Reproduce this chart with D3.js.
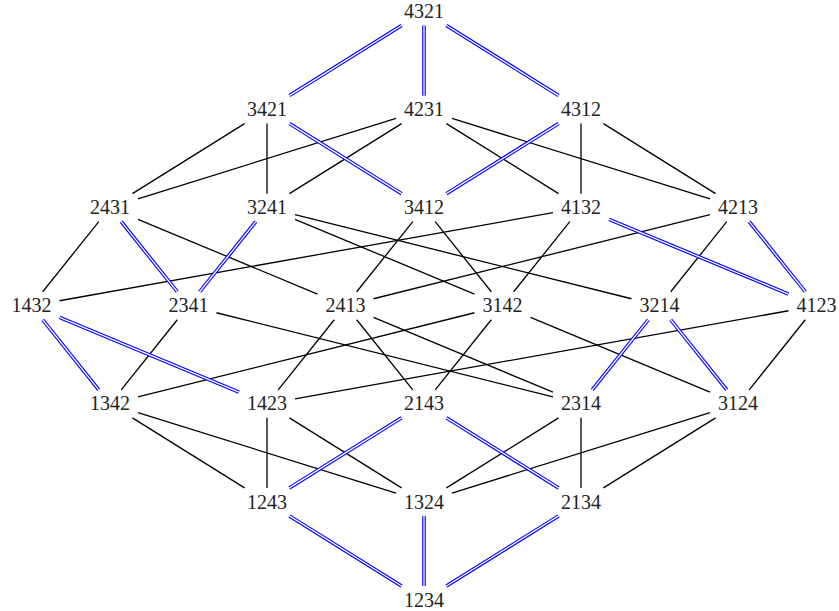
<!DOCTYPE html>
<html>
<head>
<meta charset="utf-8">
<script src="https://cdn.jsdelivr.net/npm/d3@7"></script>
<style>
  body { margin: 0; background: #fff; }
  text { font-family: "Liberation Serif", "DejaVu Serif", serif; }
</style>
</head>
<body>
<div id="chart"></div>
<script>
// permutations of 1234, one array per rank (top rank first)
var ranks = [
  ["4321"],
  ["3421", "4231", "4312"],
  ["2431", "3241", "3412", "4132", "4213"],
  ["1432", "2341", "2413", "3142", "3214", "4123"],
  ["1342", "1423", "2143", "2314", "3124"],
  ["1243", "1324", "2134"],
  ["1234"]
];

// plain cover relations [upper, lower]
var blackEdges = [
  ["3421", "2431"], ["3421", "3241"],
  ["4231", "2431"], ["4231", "3241"], ["4231", "4132"], ["4231", "4213"],
  ["4312", "4132"], ["4312", "4213"],
  ["2431", "1432"], ["2431", "2413"],
  ["3241", "3142"], ["3241", "3214"],
  ["3412", "2413"], ["3412", "3142"],
  ["4132", "1432"], ["4132", "3142"],
  ["4213", "2413"], ["4213", "3214"],
  ["2341", "1342"], ["2341", "2314"],
  ["2413", "1423"], ["2413", "2143"], ["2413", "2314"],
  ["3142", "1342"], ["3142", "2143"], ["3142", "3124"],
  ["4123", "1423"], ["4123", "3124"],
  ["1342", "1243"], ["1342", "1324"],
  ["1423", "1243"], ["1423", "1324"],
  ["2314", "1324"], ["2314", "2134"],
  ["3124", "1324"], ["3124", "2134"]
];

// highlighted (double blue) cover relations [upper, lower]
var blueEdges = [
  ["4321", "3421"], ["4321", "4231"], ["4321", "4312"],
  ["3421", "3412"], ["4312", "3412"],
  ["2431", "2341"], ["3241", "2341"],
  ["4132", "4123"], ["4213", "4123"],
  ["1432", "1342"], ["1432", "1423"],
  ["3214", "2314"], ["3214", "3124"],
  ["2143", "1243"], ["2143", "2134"],
  ["1243", "1234"], ["1324", "1234"], ["2134", "1234"]
];

var width = 839, height = 611;

var svg = d3.select("#chart")
  .append("svg")
    .attr("width", width)
    .attr("height", height);

// column slots -5..5, ranks 0..6
var x = d3.scaleLinear().domain([-5, 5]).range([31.5, 816.5]);
var y = d3.scaleLinear().domain([0, ranks.length - 1]).range([11.5, 600]);

var pos = {};
ranks.forEach(function(row, r) {
  row.forEach(function(p, i) {
    var slot = 2 * i - (row.length - 1);
    pos[p] = {x: x(slot), y: y(r)};
  });
});

// node box half sizes, edges stop at the box border
var hw = 28, hh = 14;

function clip(a, b) {
  var dx = b.x - a.x, dy = b.y - a.y;
  var t = Math.min(
    dx === 0 ? Infinity : hw / Math.abs(dx),
    dy === 0 ? Infinity : hh / Math.abs(dy));
  return {x: a.x + dx * t, y: a.y + dy * t};
}

function seg(d) {
  var a = pos[d[0]], b = pos[d[1]];
  return [clip(a, b), clip(b, a)];
}

svg.append("g")
  .selectAll("line")
  .data(blackEdges)
  .enter().append("line")
    .attr("x1", function(d) { return seg(d)[0].x; })
    .attr("y1", function(d) { return seg(d)[0].y; })
    .attr("x2", function(d) { return seg(d)[1].x; })
    .attr("y2", function(d) { return seg(d)[1].y; })
    .attr("stroke", "#000")
    .attr("stroke-width", 1.3);

// double line = wide blue stroke with a thin white one on top
var dbl = svg.append("g");
[["#0000ff", 3.6], ["#ffffff", 1.3]].forEach(function(s) {
  dbl.append("g")
    .selectAll("line")
    .data(blueEdges)
    .enter().append("line")
      .attr("x1", function(d) { return seg(d)[0].x; })
      .attr("y1", function(d) { return seg(d)[0].y; })
      .attr("x2", function(d) { return seg(d)[1].x; })
      .attr("y2", function(d) { return seg(d)[1].y; })
      .attr("stroke", s[0])
      .attr("stroke-width", s[1]);
});

svg.append("g")
  .selectAll("text")
  .data(Object.keys(pos))
  .enter().append("text")
    .attr("x", function(d) { return pos[d].x; })
    .attr("y", function(d) { return pos[d].y + 6.6; })
    .attr("text-anchor", "middle")
    .attr("font-size", 20)
    .attr("fill", "#222")
    .text(function(d) { return d; });
</script>
</body>
</html>
